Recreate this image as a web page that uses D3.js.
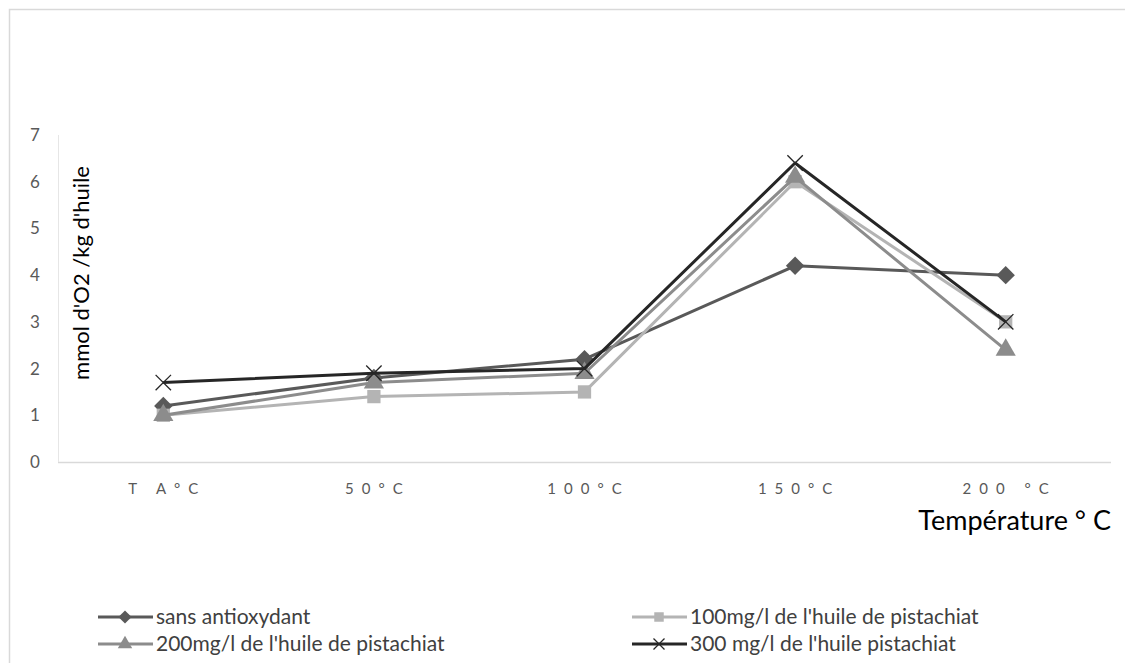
<!DOCTYPE html>
<html>
<head>
<meta charset="utf-8">
<script src="https://cdn.jsdelivr.net/npm/d3@7"></script>
<style>
  body { margin: 0; background: #fff; }
  text { font-family: Lato, "Open Sans", sans-serif; }
</style>
</head>
<body>
<svg id="chart" width="1125" height="663"></svg>
<script>
// data
var categories = ["T A°C", "50°C", "100°C", "150°C", "200 °C"];
var seriesNames = ["sans antioxydant", "100mg/l de l'huile de pistachiat",
                   "200mg/l de l'huile de pistachiat", "300 mg/l de l'huile pistachiat"];
var sansAnti = [1.2, 1.8, 2.2, 4.2, 4.0];
var huile100 = [1.0, 1.4, 1.5, 6.0, 3.0];
var huile200 = [1.0, 1.7, 1.9, 6.1, 2.4];
var huile300 = [1.7, 1.9, 2.0, 6.4, 3.0];
var yTicks = [0, 1, 2, 3, 4, 5, 6, 7];

var colors = ["#595959", "#b4b4b4", "#8c8c8c", "#262626"];
var symbols = [d3.symbolDiamond2, d3.symbolSquare, d3.symbolTriangle, "x"];
var series = [sansAnti, huile100, huile200, huile300];

var svg = d3.select("#chart");

// outer frame
svg.append("path")
  .attr("d", "M9.5,663 V9.5 H1125")
  .attr("fill", "none").attr("stroke", "#d9d9d9").attr("stroke-width", 1.5);

var plotL = 58, plotR = 1111, plotT = 135, plotB = 462;

var x = d3.scalePoint().domain(categories).range([plotL, plotR]).padding(0.5);
var y = d3.scaleLinear().domain([0, 7]).range([plotB, plotT]);

// axes lines
svg.append("line").attr("x1", plotL).attr("x2", plotR).attr("y1", plotB + 0.5).attr("y2", plotB + 0.5)
  .attr("stroke", "#d9d9d9").attr("stroke-width", 1.5);
svg.append("line").attr("x1", plotL + 0.5).attr("x2", plotL + 0.5).attr("y1", plotT).attr("y2", plotB)
  .attr("stroke", "#e6e6e6").attr("stroke-width", 1);

// y tick labels
svg.selectAll(".ytick").data(yTicks).enter().append("text")
  .attr("class", "ytick")
  .attr("x", 35).attr("y", function(d) { return y(d); })
  .attr("dy", "0.35em")
  .attr("text-anchor", "middle")
  .style("font-size", "17px").style("fill", "#595959")
  .text(function(d) { return d; });

// x tick labels (wide letter spacing like the original)
svg.selectAll(".xtick").data(categories).enter().append("text")
  .attr("class", "xtick")
  .attr("x", function(d) { return x(d) + 4; }).attr("y", 489)
  .attr("dy", "0.35em")
  .attr("text-anchor", "middle")
  .style("font-size", "15px").style("fill", "#595959").style("letter-spacing", "8px")
  .text(function(d) { return d; });

// axis titles
svg.append("text")
  .attr("transform", "translate(89,273) rotate(-90)")
  .attr("text-anchor", "middle")
  .style("font-size", "22px").style("fill", "#000")
  .text("mmol d'O2 /kg d'huile");

svg.append("text")
  .attr("x", 1111).attr("y", 530)
  .attr("text-anchor", "end")
  .style("font-size", "27px").style("fill", "#000")
  .text("Température ° C");

// markers
function drawMarker(g, i, cx, cy, s) {
  if (symbols[i] === "x") {
    var h = s * 0.55;
    g.append("path")
      .attr("d", "M" + (cx - h) + "," + (cy - h) + "L" + (cx + h) + "," + (cy + h) +
                 "M" + (cx - h) + "," + (cy + h) + "L" + (cx + h) + "," + (cy - h))
      .attr("stroke", colors[i]).attr("stroke-width", 1.3).attr("fill", "none");
  } else {
    g.append("path")
      .attr("d", d3.symbol().type(symbols[i]).size(s * s * (i === 0 ? 1.1 : 0.9))())
      .attr("transform", "translate(" + cx + "," + cy + ")")
      .attr("fill", colors[i]);
  }
}

var line = d3.line()
  .x(function(d, j) { return x(categories[j]); })
  .y(function(d) { return y(d); });

series.forEach(function(vals, i) {
  var g = svg.append("g");
  g.append("path").datum(vals)
    .attr("d", line)
    .attr("fill", "none")
    .attr("stroke", colors[i])
    .attr("stroke-width", 3)
    .attr("stroke-linejoin", "round");
  vals.forEach(function(v, j) {
    drawMarker(g, i, x(categories[j]), y(v), 14);
  });
});

// legend
var legendPos = [[98, 617], [632, 617], [98, 644], [632, 644]];
var legend = svg.selectAll(".legend").data(seriesNames).enter().append("g")
  .attr("class", "legend")
  .attr("transform", function(d, i) { return "translate(" + legendPos[i][0] + "," + legendPos[i][1] + ")"; });

legend.append("line")
  .attr("x1", 0).attr("x2", 55).attr("y1", 0).attr("y2", 0)
  .attr("stroke", function(d, i) { return colors[i]; })
  .attr("stroke-width", 3);

legend.each(function(d, i) {
  drawMarker(d3.select(this), i, 27, 0, 10);
});

legend.append("text")
  .attr("x", 58).attr("y", 0).attr("dy", "0.35em")
  .style("font-size", "21px").style("fill", "#404040")
  .text(function(d) { return d; });
</script>
</body>
</html>
